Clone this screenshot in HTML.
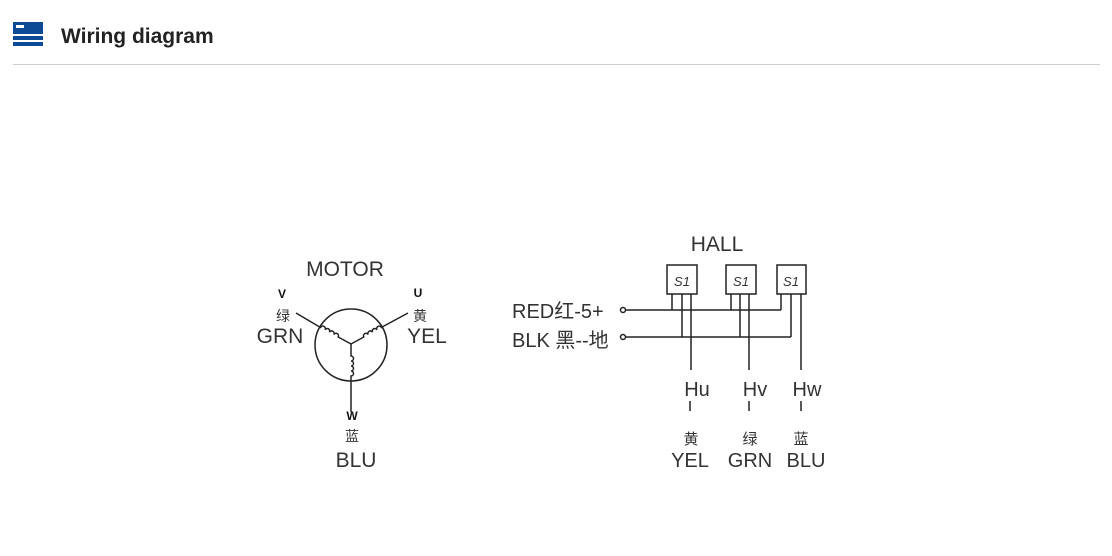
<!DOCTYPE html>
<html><head><meta charset="utf-8"><style>
html,body{margin:0;padding:0;background:#fff;width:1112px;height:556px;overflow:hidden}
</style></head><body>
<svg width="1112" height="556" viewBox="0 0 1112 556" xmlns="http://www.w3.org/2000/svg" style="position:absolute;left:0;top:0">
<rect x="13" y="22" width="30" height="12" fill="#0d4a96"/>
<rect x="16" y="25" width="8" height="3" fill="#fff"/>
<rect x="13" y="36" width="30" height="4" fill="#0d4a96"/>
<rect x="13" y="42" width="30" height="4" fill="#0d4a96"/>
<text x="61" y="43" font-family="Liberation Sans, sans-serif" font-weight="bold" font-size="21" fill="#222">Wiring diagram</text>
<rect x="13" y="64" width="1087" height="1" fill="#cfcfcf"/>

<g font-family="Liberation Sans, 'Noto Sans CJK SC', sans-serif" fill="#333" text-anchor="middle">
<text x="345" y="276" font-size="21">MOTOR</text>
<text x="282" y="298" font-size="12" font-weight="bold" fill="#111">V</text>
<text x="283" y="321" font-size="14">绿</text>
<text x="280" y="343" font-size="21">GRN</text>
<text x="418" y="297" font-size="12" font-weight="bold" fill="#111">U</text>
<text x="420" y="321" font-size="14">黄</text>
<text x="427" y="343" font-size="21">YEL</text>
<text x="352" y="420" font-size="12" font-weight="bold" fill="#111">W</text>
<text x="352" y="441" font-size="14">蓝</text>
<text x="356" y="467" font-size="21">BLU</text>

<text x="717" y="251" font-size="21">HALL</text>
<text x="682" y="286" font-size="13" font-style="italic">S1</text>
<text x="741" y="286" font-size="13" font-style="italic">S1</text>
<text x="791" y="286" font-size="13" font-style="italic">S1</text>
<text x="512" y="318" font-size="20" text-anchor="start">RED红-5+</text>
<text x="512" y="347" font-size="20" text-anchor="start">BLK 黑--地</text>
<text x="697" y="396" font-size="20">Hu</text>
<text x="755" y="396" font-size="20">Hv</text>
<text x="807" y="396" font-size="20">Hw</text>
<text x="691" y="444" font-size="15">黄</text>
<text x="750" y="444" font-size="15">绿</text>
<text x="801" y="444" font-size="15">蓝</text>
<text x="690" y="467" font-size="20">YEL</text>
<text x="750" y="467" font-size="20">GRN</text>
<text x="806" y="467" font-size="20">BLU</text>
</g>

<g stroke="#222" stroke-width="1.5" fill="none">
<circle cx="351" cy="345" r="36"/>
<line x1="318" y1="326" x2="296" y2="313"/>
<line x1="384" y1="326" x2="408" y2="313"/>
<line x1="351" y1="381" x2="351" y2="412"/>
<path transform="translate(318 326) rotate(28.6)" d="M0 0 h3 a2.5 2.5 0 0 1 5 0 a2.5 2.5 0 0 1 5 0 a2.5 2.5 0 0 1 5 0 a2.5 2.5 0 0 1 5 0 L37.6 0"/>
<path transform="translate(384 326) rotate(151.4)" d="M0 0 h3 a2.5 2.5 0 0 0 5 0 a2.5 2.5 0 0 0 5 0 a2.5 2.5 0 0 0 5 0 a2.5 2.5 0 0 0 5 0 L37.6 0"/>
<path transform="translate(351 381) rotate(-90)" d="M0 0 h5 a2.5 2.5 0 0 0 5 0 a2.5 2.5 0 0 0 5 0 a2.5 2.5 0 0 0 5 0 a2.5 2.5 0 0 0 5 0 L37 0"/>

<rect x="667" y="265" width="30" height="29"/>
<rect x="726" y="265" width="30" height="29"/>
<rect x="777" y="265" width="29" height="29"/>
<circle cx="623" cy="310" r="2.5"/>
<circle cx="623" cy="337" r="2.5"/>
<line x1="626" y1="310" x2="781" y2="310"/>
<line x1="626" y1="337" x2="791" y2="337"/>
<path d="M672 294v16 M682 294v43 M691 294v76 M731 294v16 M740 294v43 M749 294v76 M781 294v16 M791 294v43 M801 294v76"/>
<path d="M690 401v10 M749 401v10 M801 401v10"/>
</g>
</svg>
</body></html>
